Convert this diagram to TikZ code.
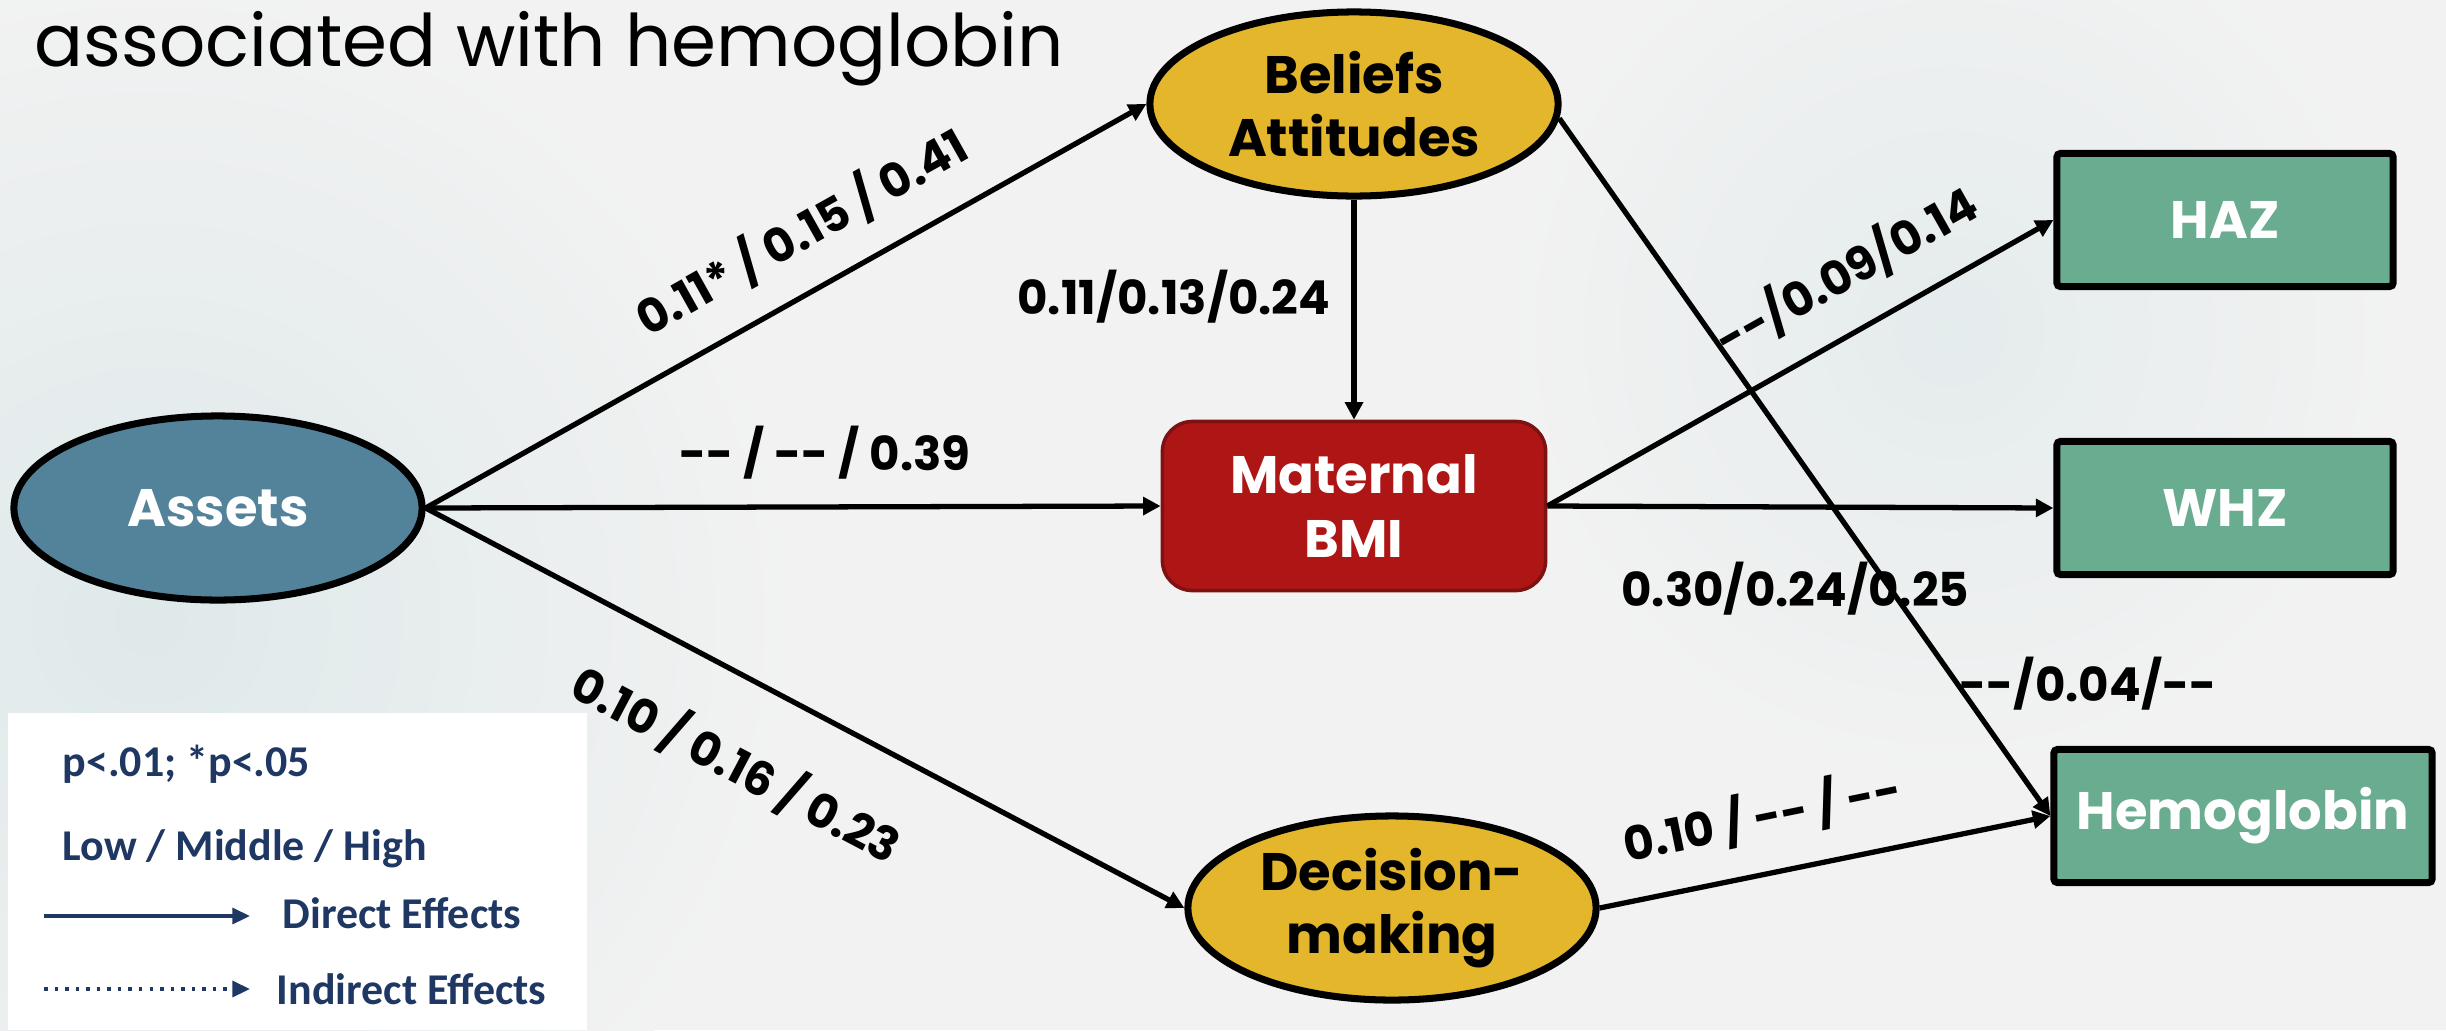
\documentclass[tikz,border=0pt]{standalone}
\usepackage{fontspec}
\setmainfont{Poppins}
\newfontfamily\legfont{Carlito}
\usetikzlibrary{shapes.geometric,arrows.meta,positioning}
\definecolor{bg}{HTML}{F2F2F2}
\definecolor{bgblue}{HTML}{DFE9EA}
\definecolor{assetc}{HTML}{53839B}
\definecolor{goldc}{HTML}{E4B62B}
\definecolor{bmic}{HTML}{AE1515}
\definecolor{bmiborder}{HTML}{7E1111}
\definecolor{greenc}{HTML}{6AAC8F}
\definecolor{navy}{HTML}{1F3763}
\newcommand{\mydd}{-\kern0pt-}
\begin{document}
\begin{tikzpicture}[x=0.01cm,y=-0.01cm,
  nodetext/.style={font=\fontsize{15}{18}\selectfont\bfseries, align=center, inner sep=0pt},
  oval/.style={nodetext, ellipse, draw=black, line width=2pt, minimum width=4.08cm, minimum height=1.84cm},
  outbox/.style={nodetext, rectangle, rounded corners=1pt, draw=black, line width=2pt, fill=greenc, text=white, minimum height=1.33cm},
  midbox/.style={nodetext, rectangle, rounded corners=0.3cm, draw=bmiborder, line width=1pt, fill=bmic, text=white, minimum width=3.83cm, minimum height=1.69cm},
  conn/.style={line width=1.5pt, -{Triangle[length=5pt,width=5pt]}},
  lbl/.style={font=\fontsize{13.3}{15}\selectfont\bfseries, inner sep=0pt},
  legtext/.style={font=\legfont\fontsize{12.5}{14}\selectfont\bfseries, text=navy, anchor=west, inner sep=0pt},
  legarrow/.style={navy, line width=1pt, -{Triangle[length=5pt,width=4.5pt]}},
]
\useasboundingbox (0,0) rectangle (2446,1030);
\fill[bg] (0,0) rectangle (2446,1030);
\begin{scope}
\clip (0,0) rectangle (2446,1030);
\shade[inner color=bgblue, outer color=bg] (150,620) circle (6.5cm);
\shade[inner color=bgblue!70!bg, outer color=bg] (1950,330) circle (4.5cm);
\end{scope}

% legend
\fill[white] (8,713) rectangle (587,1030);
\node[legtext] (leg1) at (62,764) {p<.01; *p<.05};
\node[legtext] (leg2) at (62,849) {Low / Middle / High};
\coordinate (d1) at (44,916);
\coordinate (d2) at (250,916);
\draw[legarrow] (d1) -- (d2);
\node[legtext] (leg3) at (282,913) {Direct Effects};
\coordinate (i1) at (44,989);
\coordinate (i2) at (250,989);
\draw[legarrow, dotted] (i1) -- (i2);
\node[legtext] (leg4) at (276,989) {Indirect Effects};

% title
\node[font=\fontsize{20.6}{24}\selectfont, anchor=base west, inner sep=0pt] (title) at (34,66) {associated with hemoglobin};

% nodes
\node[oval, fill=assetc, text=white] (assets) at (218,508) {Assets};
\node[oval, fill=goldc] (beliefs) at (1354,104) {Beliefs\\Attitudes};
\node[oval, fill=goldc] (decision) at (1392,908) {Decision-\\making};
\node[midbox] (bmi) at (1354,506) {Maternal\\BMI};
\node[outbox, minimum width=3.36cm] (haz) at (2225,220) {HAZ};
\node[outbox, minimum width=3.36cm] (whz) at (2225,508) {WHZ};
\node[outbox, minimum width=3.78cm] (hemo) at (2243,816) {Hemoglobin};

% connectors
\draw[conn] (assets.east) -- node[lbl, pos=0.56, sloped, above=8pt] {0.11* / 0.15 / 0.41} (beliefs.west);
\draw[conn] (assets.east) -- node[lbl, pos=0.543, above=7pt] {\mydd{} / \mydd{} / 0.39} (bmi.west);
\draw[conn] (assets.east) -- node[lbl, pos=0.46, sloped, below=15pt] {0.10 / 0.16 / 0.23} (decision.west);
\draw[conn] (beliefs.south) -- node[lbl, pos=0.44, left=6pt] {0.11/0.13/0.24} (bmi.north);
\draw[conn] (bmi.east) -- node[lbl, pos=0.646, sloped, above=8pt] {\mydd/0.09/0.14} (haz.west);
\draw[conn] (bmi.east) -- node[lbl, pos=0.49, below=15pt] {0.30/0.24/0.25} (whz.west);
\draw[conn] (beliefs.-4) -- node[lbl, pos=0.81, anchor=west] {\mydd/0.04/\mydd} (hemo.west);
\draw[conn] (decision.east) -- node[lbl, pos=0.386, sloped, above=8pt] {0.10 / \mydd{} / \mydd} (hemo.west);
\end{tikzpicture}
\end{document}
